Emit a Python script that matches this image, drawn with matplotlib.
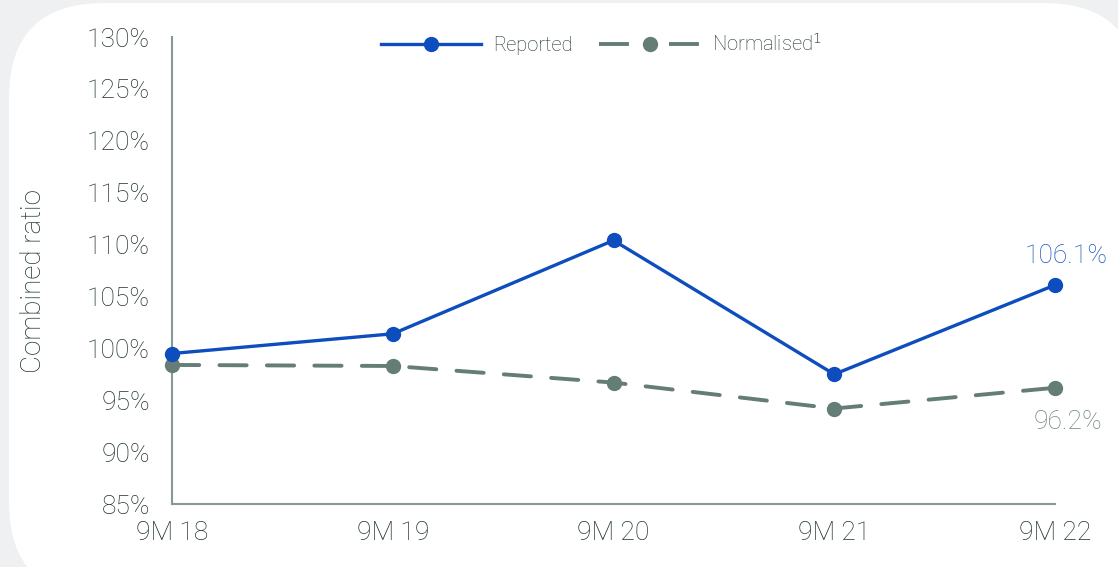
import matplotlib
matplotlib.use("Agg")
import matplotlib.pyplot as plt
from matplotlib.patches import FancyBboxPatch
from matplotlib.lines import Line2D

categories = ["9M 18", "9M 19", "9M 20", "9M 21", "9M 22"]
reported = [99.5, 101.4, 110.4, 97.5, 106.1]
normalised = [98.4, 98.3, 96.7, 94.2, 96.2]
yticks = [85, 90, 95, 100, 105, 110, 115, 120, 125, 130]

blue = "#0d4dbd"
grey = "#647d76"
text_col = "#1f3430"
spine_col = "#849a92"

plt.rcParams['font.family'] = ['Roboto', 'DejaVu Sans']
plt.rcParams['font.weight'] = 'light'
plt.rcParams['axes.labelweight'] = 'light'

W, H = 1118, 567
fig = plt.figure(figsize=(W / 100, H / 100), dpi=100)
fig.patch.set_facecolor("#eef0f2")

bg = fig.add_axes([0, 0, 1, 1], zorder=-5)
bg.set_xlim(0, W)
bg.set_ylim(0, H)
bg.axis("off")
bg.add_patch(FancyBboxPatch((9, -30), 1130, 594,
                            boxstyle="round,pad=0,rounding_size=95",
                            facecolor="white", edgecolor="none"))

ax = fig.add_axes([172 / W, (H - 504) / H, (1055 - 172) / W, (504 - 37) / H])
ax.set_facecolor("none")
x = list(range(len(categories)))

ax.plot(x, reported, color=blue, lw=2.4, marker="o", ms=10, clip_on=False,
        zorder=4, label="Reported")
ax.plot(x, normalised, color=grey, lw=2.8, marker="o", ms=10, clip_on=False,
        dashes=(7.0, 5.2), dash_capstyle="round", zorder=3,
        label="Normalised$^1$")

ax.set_xlim(0, 4)
ax.set_ylim(85, 130)
ax.set_yticks(yticks)
ax.set_yticklabels([f"{v}%" for v in yticks])
ax.set_xticks(x)
ax.set_xticklabels(categories)
ax.tick_params(axis="both", length=0, labelsize=19, colors=text_col)
ax.tick_params(axis="y", pad=16)
ax.tick_params(axis="x", pad=12)
for s in ["top", "right"]:
    ax.spines[s].set_visible(False)
for s in ["left", "bottom"]:
    ax.spines[s].set_color(spine_col)
    ax.spines[s].set_linewidth(1.5)

ax.set_ylabel("Combined ratio", fontsize=20, color=text_col, fontweight="light")
ax.yaxis.set_label_coords(-0.142, 0.478)

ax.annotate(f"{reported[-1]:.1f}%", (4, reported[-1]), xytext=(8, 12),
            textcoords="offset points", ha="center", va="bottom",
            fontsize=19, color="#1f55c2")
ax.annotate(f"{normalised[-1]:.1f}%", (4, normalised[-1]), xytext=(9, -16),
            textcoords="offset points", ha="center", va="top",
            fontsize=19, color="#6f857e")

h1 = Line2D([], [], color=blue, lw=2.4, marker="o", ms=10)
h2 = Line2D([], [], color=grey, lw=2.8, marker="o", ms=10, dashes=(7.7, 10.3))
leg = ax.legend([h1, h2], ["Reported", "Normalised$^1$"], loc="upper center",
                bbox_to_anchor=(0.486, 1.048), ncol=2, frameon=False,
                fontsize=14.5, handlelength=5.0, columnspacing=1.3,
                handletextpad=0.6)
for t in leg.get_texts():
    t.set_color(text_col)

fig.savefig("out.png", dpi=100, facecolor=fig.get_facecolor())
